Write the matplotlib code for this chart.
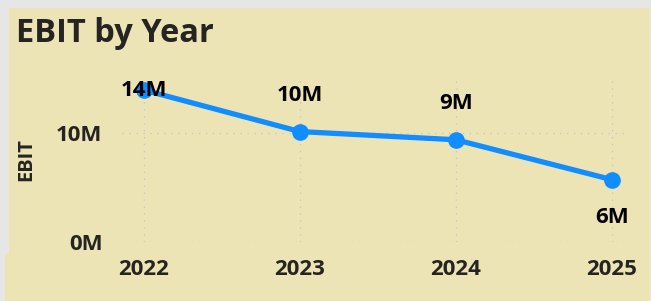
import matplotlib.pyplot as plt
from matplotlib.patches import Rectangle

# values
years = [2022, 2023, 2024, 2025]
ebit = [13.9e6, 10.1e6, 9.35e6, 5.7e6]
point_labels = ["14M", "10M", "9M", "6M"]
y_ticks = [0, 10e6]
y_tick_labels = ["0M", "10M"]

text_col = "#252423"
line_col = "#118DFF"
panel_col = "#EDE4B6"

plt.rcParams["font.family"] = ["Open Sans", "DejaVu Sans"]

fig = plt.figure(figsize=(6.51, 3.01), dpi=100)
fig.patch.set_facecolor("#E6E6E6")
fig.patches.append(Rectangle((9 / 651, 0), 641 / 651, 293 / 301,
                             transform=fig.transFigure, facecolor=panel_col,
                             edgecolor="none", zorder=-10))
fig.patches.append(Rectangle((5 / 651, 0), 10 / 651, 47 / 301,
                             transform=fig.transFigure, facecolor=panel_col,
                             edgecolor="none", zorder=-10))

ax = fig.add_axes([122 / 651, 59 / 301, 502 / 651, 164 / 301])
ax.set_facecolor("none")
ax.plot(years, ebit, color=line_col, lw=3.8, marker="o", ms=11, zorder=3)

ax.set_xlim(2021.86, 2025.077)
ax.set_ylim(0, 15e6)
ax.set_xticks(years)
ax.set_xticklabels([str(y) for y in years])
ax.set_yticks(y_ticks)
ax.set_yticklabels(y_tick_labels)
ax.tick_params(length=0, labelsize=16, colors=text_col)
ax.tick_params(axis="y", pad=14)
ax.tick_params(axis="x", pad=12)
for lab in ax.get_xticklabels() + ax.get_yticklabels():
    lab.set_fontweight("bold")
ax.grid(True, color="#C8C8C8", linestyle=(0, (1, 4)), lw=1)
for s in ax.spines.values():
    s.set_visible(False)

# data labels: above the point, except the last one which sits below
offsets = [0, 26, 26, -27]
for x, y, lab, off in zip(years, ebit, point_labels, offsets):
    ax.annotate(lab, (x, y), xytext=(0, off), textcoords="offset points",
                ha="center", va="center", fontsize=16, fontweight="bold",
                color="black", zorder=4)

ax.set_ylabel("EBIT", fontsize=14.5, fontweight="bold", color=text_col)
ax.yaxis.set_label_coords((36 - 122) / 502, (242 - 160) / 164)
fig.text(16 / 651, 1 - 34 / 301, "EBIT by Year", fontsize=23.5, fontweight="bold",
         color=text_col, va="center", ha="left")

fig.savefig("out.png", dpi=100, facecolor=fig.get_facecolor())
